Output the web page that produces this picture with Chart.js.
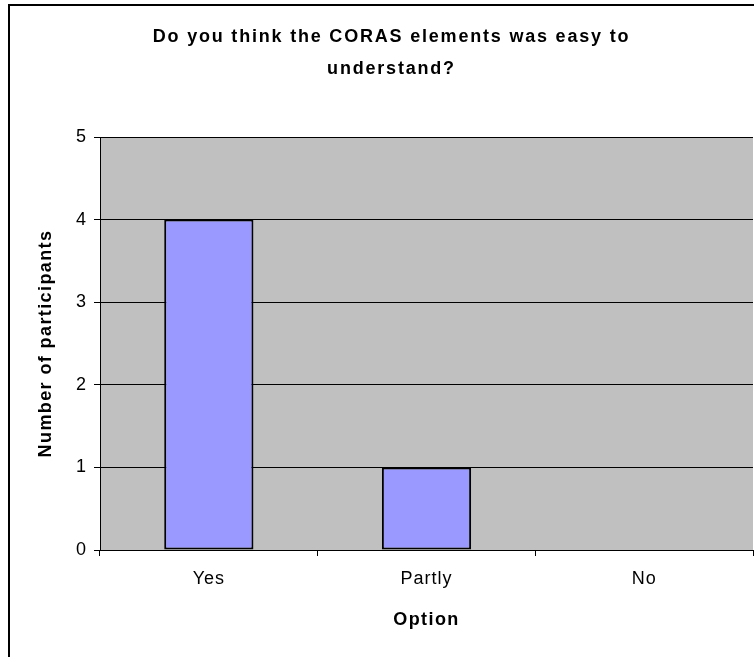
<!DOCTYPE html>
<html><head><meta charset="utf-8">
<script src="https://cdn.jsdelivr.net/npm/chart.js@4.4.1/dist/chart.umd.min.js"></script>
<style>
html,body{margin:0;padding:0;background:#fff;overflow:hidden;}
#view{position:absolute;left:0;top:0;width:754px;height:657px;overflow:hidden;background:#fff;}
#frame{position:absolute;left:8px;top:4px;width:800px;height:700px;border-left:2px solid #000;border-top:2px solid #000;}
canvas{position:absolute;left:0;top:0;}
</style></head><body>
<div id="view"><div id="frame"><canvas id="c" width="764" height="651"></canvas></div></div>
<script>
const categories = ['Yes', 'Partly', 'No'];
const participants = [4, 1, 0];
const yTickValues = [0, 1, 2, 3, 4, 5];
const chartTitle = ['Do you think the CORAS elements was easy to', 'understand?'];
const xTitle = 'Option';
const yTitle = 'Number of participants';

const FONT = "'Liberation Sans', Arial, sans-serif";

const bgPlugin = {
  id: 'plotBg',
  beforeDraw(chart) {
    const a = chart.chartArea, ctx = chart.ctx;
    ctx.letterSpacing = '1px';
    ctx.save();
    ctx.fillStyle = '#C0C0C0';
    ctx.fillRect(a.left, a.top, a.right - a.left, a.bottom - a.top);
    ctx.restore();
  },
  afterLayout(chart) {
    const tb = chart.titleBlock;
    if (tb && !tb._wrapped) {
      const orig = tb.draw;
      tb.draw = function () {
        const ctx = this.ctx;
        ctx.save();
        ctx.letterSpacing = '1.8px';
        ctx.translate(10, 0);
        orig.apply(this, arguments);
        ctx.restore();
      };
      tb._wrapped = true;
    }
    ['x', 'y'].forEach(id => {
      const s = chart.scales[id];
      if (s && !s._wrapped) {
        const o = s.drawTitle;
        s.drawTitle = function () {
          const ctx = this.ctx;
          ctx.save();
          ctx.letterSpacing = '1.4px';
          o.apply(this, arguments);
          ctx.restore();
        };
        s._wrapped = true;
      }
    });
  }
};

new Chart(document.getElementById('c'), {
  type: 'bar',
  data: {
    labels: categories,
    datasets: [{
      data: participants,
      backgroundColor: '#9999FF',
      borderColor: '#000000',
      borderWidth: 2,
      borderSkipped: false,
      categoryPercentage: 1,
      barPercentage: 0.41
    }]
  },
  options: {
    responsive: false,
    animation: false,
    devicePixelRatio: 1,
    layout: { padding: { left: 0, right: 21, top: 0, bottom: 0 } },
    plugins: {
      legend: { display: false },
      tooltip: { enabled: false },
      title: {
        display: true,
        text: chartTitle,
        color: '#000',
        font: { family: FONT, size: 18, weight: 'bold', lineHeight: 1.778 },
        padding: { top: 15, bottom: 52 }
      }
    },
    scales: {
      x: {
        afterFit(s) { s.height = 107; },
        grid: { offset: true, drawOnChartArea: false, drawTicks: true, tickLength: 6, color: '#000', lineWidth: 1 },
        border: { display: true, color: '#000', width: 1 },
        ticks: { color: '#000', padding: 12, font: { family: FONT, size: 18 } },
        title: {
          display: true, text: xTitle, color: '#000',
          font: { family: FONT, size: 18, weight: 'bold', lineHeight: 1.2 },
          padding: { top: 0, bottom: 26 }
        }
      },
      y: {
        min: 0, max: 5,
        afterFit(s) { s.width = 90; },
        afterBuildTicks(s) { s.ticks = yTickValues.map(v => ({ value: v })); },
        grid: { color: '#000', lineWidth: 1, drawTicks: true, tickLength: 6 },
        border: { display: true, color: '#000', width: 1 },
        ticks: { color: '#000', padding: 7, font: { family: FONT, size: 18 } },
        title: {
          display: true, text: yTitle, color: '#000',
          font: { family: FONT, size: 18, weight: 'bold', lineHeight: 1.2 },
          padding: { top: 25, bottom: 0 }
        }
      }
    }
  },
  plugins: [bgPlugin]
});
</script>
</body></html>
